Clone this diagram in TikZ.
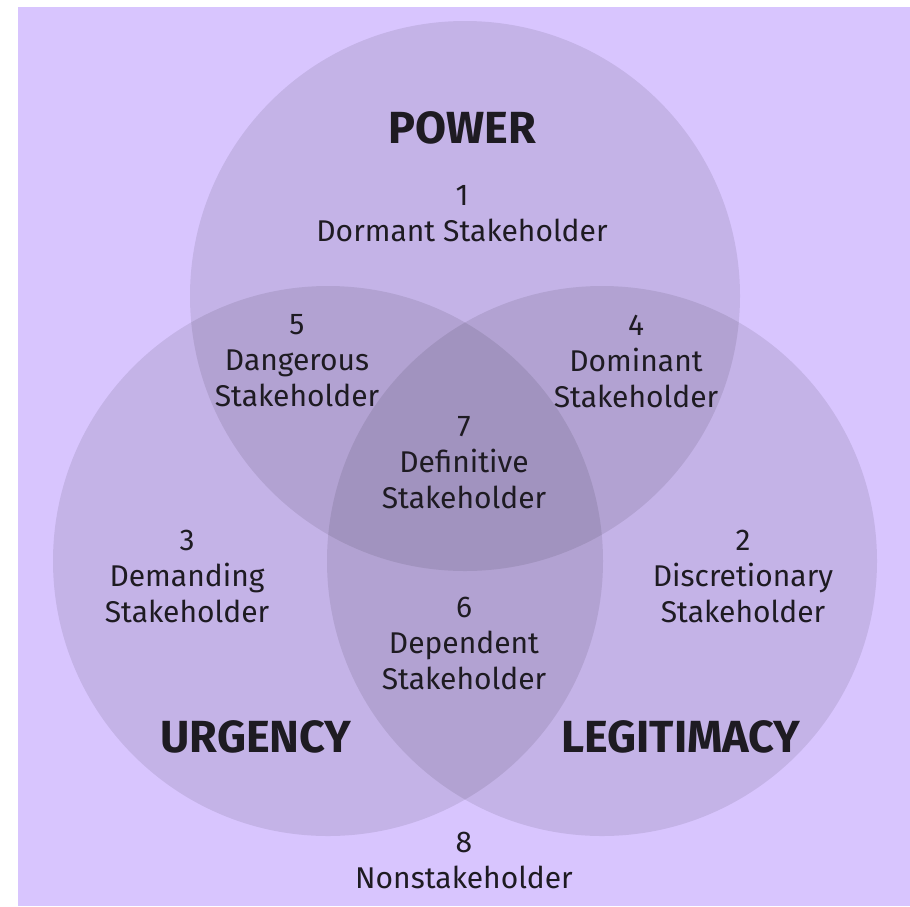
\documentclass[tikz,border=0pt]{standalone}
\usepackage{fontspec}
\setmainfont{Fira Sans}
\usepackage{tikz}
\definecolor{bgpurple}{HTML}{D8C5FE}
\definecolor{inktext}{HTML}{1E1B22}
\newcommand{\setname}[1]{{\fontsize{45}{50}\selectfont\bfseries #1}}
\tikzset{
	setcircle/.style={circle,minimum size=550pt,fill=black,fill opacity=0.09,inner sep=0pt},
	region/.style={align=center,text=inktext,font=\fontsize{30}{36}\selectfont,inner sep=0pt},
	setlabel/.style={text=inktext,inner sep=0pt}
}
\begin{document}
\begin{tikzpicture}[x=1pt,y=-1pt]
					\useasboundingbox (0,0) rectangle (910,906);
					\fill[bgpurple] (18,7) rectangle (910,906);
					
					% circles
					\node[setcircle] (power) at (465,296) {};
					\node[setcircle] (urgency) at (328,561) {};
					\node[setcircle] (legitimacy) at (602,561) {};
					
					% labels
					\node[setlabel] (powerlbl) at (462,128) {\setname{POWER}};
					\node[setlabel] (urgencylbl) at (256,737) {\setname{URGENCY}};
					\node[setlabel] (legitlbl) at (681,737) {\setname{LEGITIMACY}};
					
					% regions
					\node[region] (dormant) at (462,214) {1\\Dormant Stakeholder};
					\node[region] (dangerous) at (297,361) {5\\Dangerous\\Stakeholder};
					\node[region] (dominant) at (636,361) {4\\Dominant\\Stakeholder};
					\node[region] (definitive) at (464,463) {7\\Definitive\\Stakeholder};
					\node[region] (demanding) at (187,576) {3\\Demanding\\Stakeholder};
					\node[region] (discretionary) at (743,576) {2\\Discretionary\\Stakeholder};
					\node[region] (dependent) at (464,643) {6\\Dependent\\Stakeholder};
					\node[region] (nonstake) at (464,860) {8\\Nonstakeholder};
				\end{tikzpicture}
\end{document}
